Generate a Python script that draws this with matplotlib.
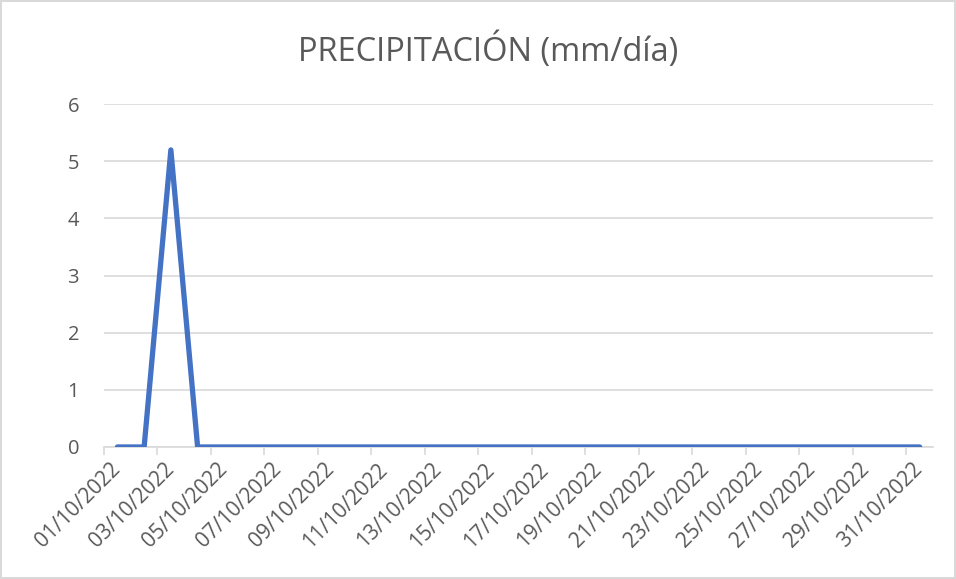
import numpy as np
import matplotlib
matplotlib.use("Agg")
import matplotlib.pyplot as plt

# Data
dates = ["%02d/10/2022" % d for d in range(1, 32)]
precip = [0, 0, 5.2] + [0] * 28

plt.rcParams['font.family'] = ['Open Sans', 'DejaVu Sans']

fig = plt.figure(figsize=(9.56, 5.79), dpi=100)
fig.patch.set_edgecolor('#D9D9D9')
fig.patch.set_linewidth(1.5)
ax = fig.add_axes([0.1088, 0.228, 0.8672, 0.592])

x = np.arange(1, len(dates) + 1)
ax.plot(x, precip, color='#4472C4', linewidth=3.8, solid_capstyle='round',
        solid_joinstyle='round', zorder=3)

ax.set_xlim(0.5, len(dates) + 0.5)
ax.set_ylim(0, 6)
ax.set_yticks(range(0, 7))
ax.yaxis.grid(True, color='#D9D9D9', linewidth=1.2)
ax.set_axisbelow(True)

for s in ['top', 'right', 'left']:
    ax.spines[s].set_visible(False)
ax.spines['bottom'].set_color('#D9D9D9')
ax.spines['bottom'].set_linewidth(1.2)

# labels every second day, tick marks at category boundaries
ax.set_xticks(x[::2])
ax.set_xticklabels(dates[::2], rotation=45, ha='right', va='center',
                   rotation_mode='anchor', fontsize=15, color='#595959')
ax.tick_params(axis='x', which='major', length=0, pad=14)
ax.set_xticks(np.arange(0.5, len(dates) + 1, 2), minor=True)
ax.tick_params(axis='x', which='minor', length=6, color='#D9D9D9', width=1.2)
ax.tick_params(axis='y', length=0, labelsize=14.5, labelcolor='#595959', pad=18)

fig.text(0.511, 0.913, 'PRECIPITACIÓN (mm/día)', ha='center', va='center',
         fontsize=23.5, color='#595959')

fig.savefig('out.png', dpi=100)
